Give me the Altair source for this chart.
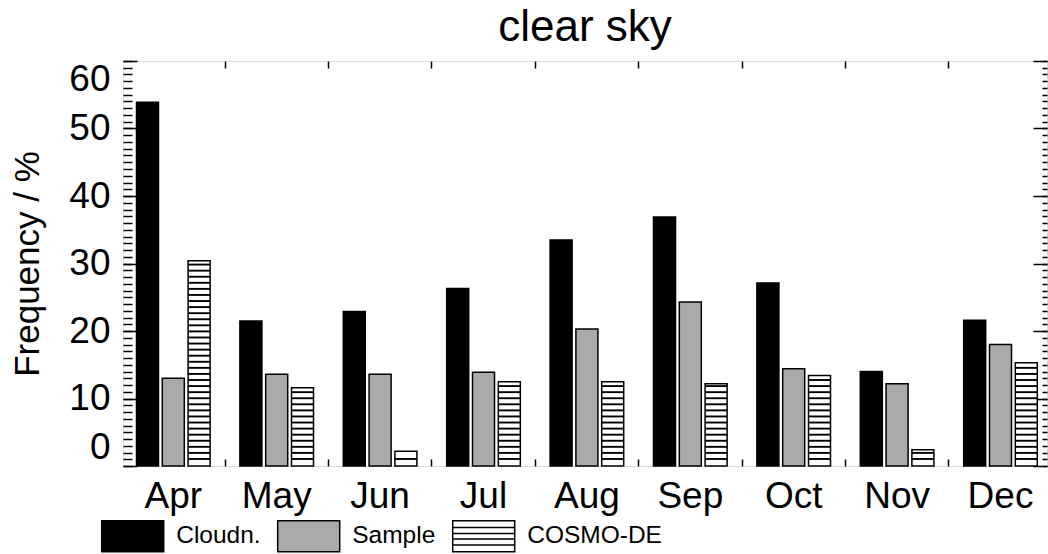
import altair as alt
import pandas as pd

# ---- data ----
months = ["Apr", "May", "Jun", "Jul", "Aug", "Sep", "Oct", "Nov", "Dec"]
series = ["Cloudn.", "Sample", "COSMO-DE"]
cloudn = [53.9, 21.5, 22.9, 26.3, 33.5, 36.9, 27.1, 14.0, 21.6]
sample = [13.0, 13.6, 13.6, 13.9, 20.3, 24.3, 14.4, 12.2, 18.0]
cosmo = [30.4, 11.6, 2.2, 12.5, 12.5, 12.2, 13.4, 2.4, 15.3]
y_major = [0, 10, 20, 30, 40, 50, 60]
y_minor = list(range(0, 61))

rows = []
for i, m in enumerate(months):
    for s, vals in zip(series, [cloudn, sample, cosmo]):
        rows.append({"month": m, "series": s, "value": vals[i]})
df = pd.DataFrame(rows)

# horizontal hatch lines for the COSMO-DE bars (decoration)
HATCH = 0.9
hrows = []
for m, v in zip(months, cosmo):
    k = 1
    while k * HATCH < v - 0.45:
        hrows.append({"month": m, "series": "COSMO-DE", "level": k * HATCH})
        k += 1
hatch = pd.DataFrame(hrows)

FONT = "Liberation Sans"

x_scale = alt.Scale(domain=months, range=[-1.4, 929.2], paddingInner=0, paddingOuter=0)
off_scale = alt.Scale(domain=series, paddingInner=0.147, paddingOuter=0.577)
y_scale = alt.Scale(domain=[0, 60], nice=False, zero=True)
fill_scale = alt.Scale(domain=series, range=["#000000", "#aaaaaa", "#ffffff"])
stroke_scale = alt.Scale(domain=series, range=["#000000", "#000000", "#000000"])
rect_path = "M-1,-0.5H1V0.5H-1Z"
hatch_path = "M-1,-0.5H1V0.5H-1Z M-1,-0.28H1 M-1,-0.09H1 M-1,0.09H1 M-1,0.28H1"
shape_scale = alt.Scale(domain=series, range=[rect_path, rect_path, hatch_path])

legend = alt.Legend(
    title=None, orient="none", legendX=-22.3, legendY=443, direction="horizontal",
    columns=3, symbolSize=3844, symbolStrokeColor="black", symbolStrokeWidth=1.5,
    symbolOpacity=1, labelFontSize=24.5, labelFont=FONT, labelColor="black",
    labelOffset=11.5, columnPadding=14, padding=0, labelLimit=300,
)

ax_bottom_labels = alt.Axis(orient="bottom", ticks=False, domain=False, tickSize=0,
                            labelPadding=12.5, labelFontSize=37, labelFont=FONT,
                            labelColor="black", labelAngle=0, title=None, grid=False)
ax_top_ticks = alt.Axis(orient="top", values=months[1:], bandPosition=0, tickExtra=False,
                        tickSize=7, offset=-7, labels=False, domain=False,
                        tickColor="black", tickWidth=1.5, title=None, grid=False)
ax_bottom_ticks = alt.Axis(orient="bottom", values=months[1:], bandPosition=0, tickExtra=False,
                           tickSize=7, offset=-7, labels=False, domain=False,
                           tickColor="black", tickWidth=1.5, title=None, grid=False)
ax_left_major = alt.Axis(orient="left", values=y_major, tickSize=14, offset=-14,
                         labelPadding=13, labelFlush=True, labelFontSize=37, labelFont=FONT,
                         labelColor="black", domain=False, grid=False,
                         tickColor="black", tickWidth=1.5,
                         title="Frequency / %", titleFontSize=35, titleFont=FONT,
                         titleFontWeight="normal", titleColor="black", titleAngle=270,
                         titleAlign="center", titleBaseline="alphabetic",
                         titleX=-99, titleY=202.5)
ax_left_minor = alt.Axis(orient="left", values=y_minor, tickSize=9, offset=-9, labels=False,
                         domain=False, grid=False, tickColor="black", tickWidth=1.5, title=None)
ax_right_major = alt.Axis(orient="right", values=y_major, tickSize=14, offset=-14, labels=False,
                          domain=False, grid=False, tickColor="black", tickWidth=1.5, title=None)
ax_right_minor = alt.Axis(orient="right", values=y_minor, tickSize=5, offset=-5, labels=False,
                          domain=False, grid=False, tickColor="black", tickWidth=1.5, title=None)

bars = alt.Chart(df).mark_bar(stroke="black", strokeWidth=1.5).encode(
    x=alt.X("month:N", scale=x_scale, axis=ax_bottom_labels),
    xOffset=alt.XOffset("series:N", scale=off_scale),
    y=alt.Y("value:Q", scale=y_scale, axis=ax_left_major),
    fill=alt.Fill("series:N", scale=fill_scale, legend=legend),
)

lines = alt.Chart(hatch).transform_calculate(top="datum.level + 0.28").mark_bar(fill="black").encode(
    x=alt.X("month:N", scale=x_scale, axis=ax_top_ticks),
    xOffset=alt.XOffset("series:N", scale=off_scale),
    y=alt.Y("level:Q", scale=y_scale, axis=ax_left_minor),
    y2="top:Q",
)

pts = alt.Chart(df).mark_point(filled=True, opacity=0).encode(
    x=alt.X("month:N", scale=x_scale, axis=ax_bottom_ticks),
    xOffset=alt.XOffset("series:N", scale=off_scale),
    y=alt.Y("value:Q", scale=y_scale, axis=ax_right_major),
    fill=alt.Fill("series:N", scale=fill_scale, legend=legend),
    shape=alt.Shape("series:N", scale=shape_scale, legend=legend),
    stroke=alt.Stroke("series:N", scale=stroke_scale, legend=legend),
)

inv = alt.Chart(df).mark_point(opacity=0).encode(
    x=alt.X("month:N", scale=x_scale, axis=None),
    y=alt.Y("value:Q", scale=y_scale, axis=ax_right_minor),
)

chart = alt.layer(bars, lines, pts, inv).resolve_axis(
    x="independent", y="independent"
).properties(
    width=924,
    height=405,
    title=alt.Title("clear sky", fontSize=44, font=FONT, fontWeight="normal",
                    anchor="middle", frame="group", baseline="alphabetic",
                    offset=21.7, dy=47, color="black"),
    autosize=alt.AutoSizeParams(type="none"),
    padding={"left": 123, "top": 61, "right": 1, "bottom": 88},
).configure_view(
    stroke="black", strokeWidth=1.5
).configure(
    font=FONT, background="white"
)

chart.save("out.html", embed_options={"renderer": "svg", "actions": False})
